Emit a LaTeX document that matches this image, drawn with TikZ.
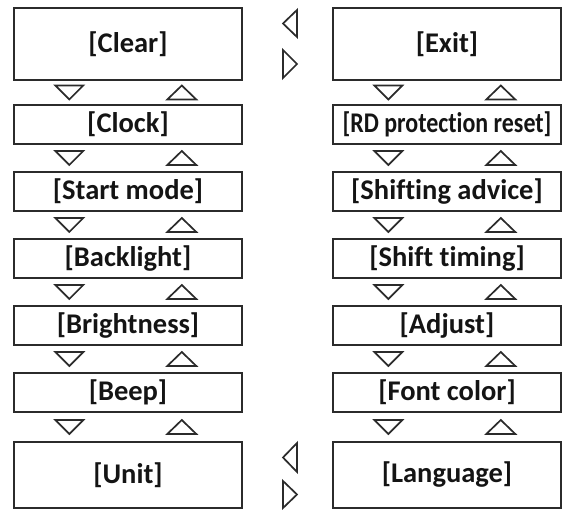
\documentclass[tikz,border=0pt]{standalone}
\usepackage{fontspec}
\usepackage{graphicx}
\setmainfont{Carlito}[Ligatures=NoCommon]
\usetikzlibrary{calc}
\definecolor{ink}{HTML}{2B2B2B}
\begin{document}
\begin{tikzpicture}[x=1pt,y=-1pt,
  menubox/.style={draw=ink, line width=1.4pt, minimum width=228pt, minimum height=39pt,
    inner sep=0pt, font=\fontsize{28.5}{30}\selectfont\bfseries, text=black!92},
  bigbox/.style={menubox, minimum height=72pt},
  tri/.style={draw=ink, line width=1.7pt, line join=miter, fill=white}]
\useasboundingbox (0,0) rectangle (563,510);
% left column
\node[bigbox] (clear) at (128,44) {[Clear]};
\node[menubox] (clock) at (128,124.5) {[Clock]};
\node[menubox] (start) at (128,191.5) {[Start mode]};
\node[menubox] (back) at (128,258.5) {[Backlight]};
\node[menubox] (bright) at (128,325.5) {[Brightness]};
\node[menubox] (beep) at (128,392.5) {[Beep]};
\node[menubox, minimum height=66pt] (unit) at (128,475) {[Unit]};
% right column
\node[bigbox] (exit) at (447,44) {[Exit]};
\node[menubox] (rd) at (447,124.5) {\scalebox{0.84}[1]{[RD protection reset]}};
\node[menubox] (shadv) at (447,191.5) {[Shifting advice]};
\node[menubox] (shtim) at (447,258.5) {[Shift timing]};
\node[menubox] (adj) at (447,325.5) {[Adjust]};
\node[menubox] (font) at (447,392.5) {[Font color]};
\node[menubox, minimum height=66pt] (lang) at (447,475) {[Language]};
% up/down triangles between boxes
\foreach \a/\b in {clear/clock,clock/start,start/back,back/bright,bright/beep,beep/unit,
                   exit/rd,rd/shadv,shadv/shtim,shtim/adj,adj/font,font/lang}{
  \coordinate (m) at ($(\a.south west)!0.5!(\b.north west)$);
  \draw[tri] ($(m)+(42,-7)$) -- ($(m)+(70,-7)$) -- ($(m)+(56,7)$) -- cycle;
  \draw[tri] ($(m)+(154,7)$) -- ($(m)+(183,7)$) -- ($(m)+(168.5,-7)$) -- cycle;
}
% side arrows
\draw[tri] (297,10) -- (283,23.5) -- (297,37) -- cycle;
\draw[tri] (283,50) -- (297,64) -- (283,78) -- cycle;
\draw[tri] (297,443) -- (283,457.5) -- (297,472) -- cycle;
\draw[tri] (283,481) -- (297,494.5) -- (283,508) -- cycle;
\end{tikzpicture}
\end{document}
